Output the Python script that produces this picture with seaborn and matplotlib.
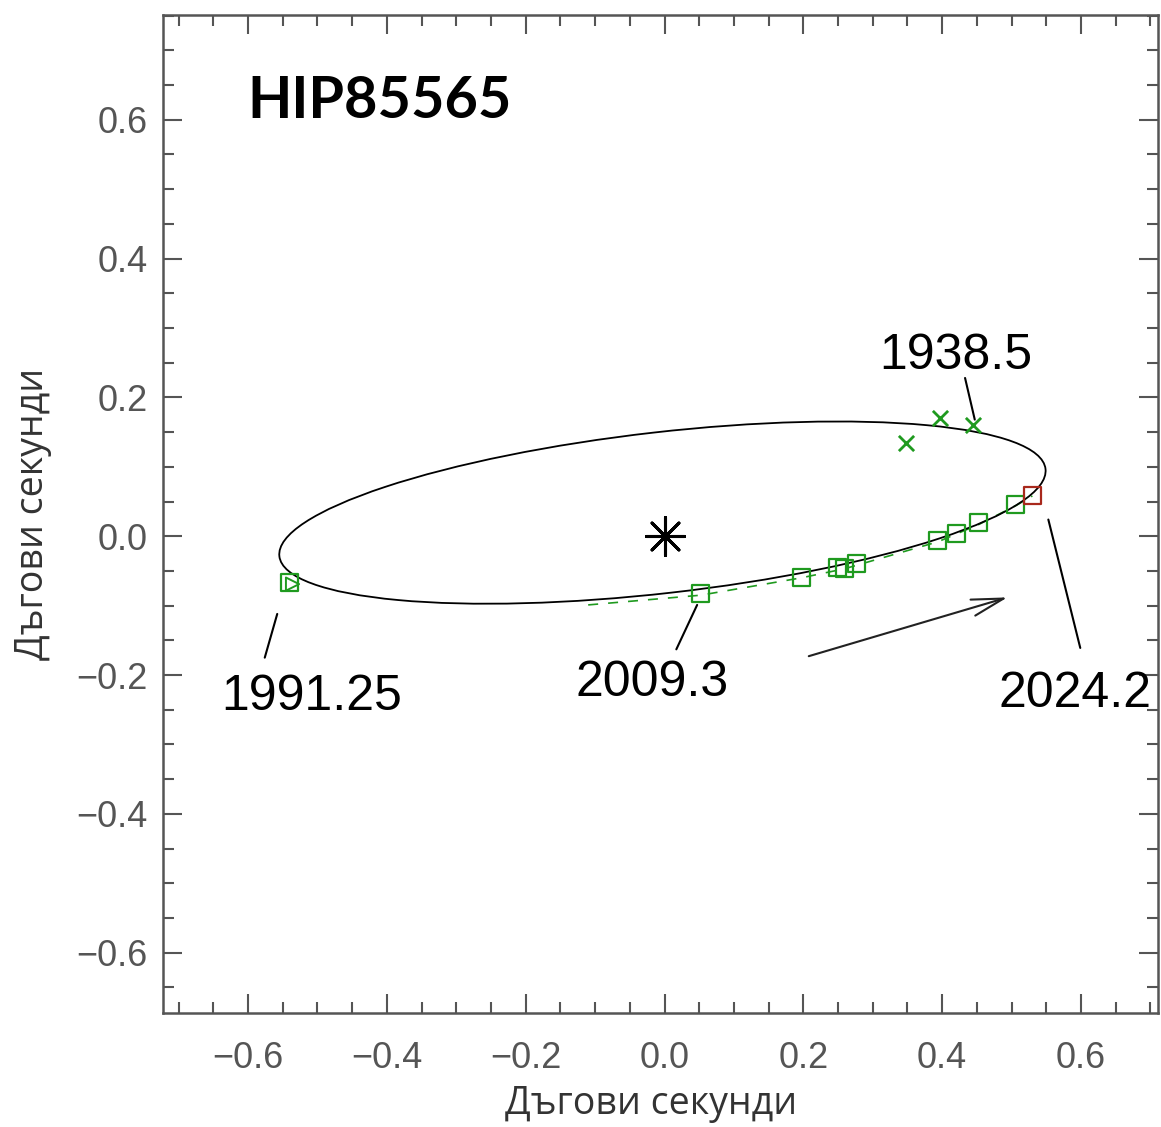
import numpy as np
import matplotlib
matplotlib.use("Agg")
import matplotlib.pyplot as plt
from matplotlib.patches import Ellipse
import pandas as pd
import seaborn as sns

# observed positions (arcsec)
obs_x = [-0.540, 0.052, 0.197, 0.249, 0.259, 0.276, 0.394, 0.421, 0.453, 0.506]
obs_y = [-0.066, -0.082, -0.059, -0.045, -0.046, -0.040, -0.006, 0.004, 0.020, 0.046]
last_x = [0.530]
last_y = [0.058]
old_x = [0.348, 0.397, 0.444]
old_y = [0.135, 0.171, 0.160]
path_x = [-0.110, 0.052, 0.197, 0.259, 0.394, 0.453, 0.506, 0.530]
path_y = [-0.099, -0.085, -0.060, -0.047, -0.008, 0.017, 0.044, 0.058]

# apparent orbit: centre, full axes, tilt (deg)
orb_center = (-0.003, 0.034)
orb_width = 1.111
orb_height = 0.232
orb_angle = 6.5

# epoch labels: text, text position, line start, line end
ep_labels = ["1938.5", "1991.25", "2009.3", "2024.2"]
ep_text_xy = [(0.419, 0.259), (-0.508, -0.231), (-0.018, -0.211), (0.591, -0.228)]
ep_line_a = [(0.433, 0.228), (-0.558, -0.112), (0.047, -0.099), (0.553, 0.024)]
ep_line_b = [(0.447, 0.168), (-0.576, -0.175), (0.017, -0.163), (0.599, -0.161)]

sns.set_style("ticks")
plt.rcParams["font.family"] = ["Open Sans", "DejaVu Sans"]

fig = plt.figure(figsize=(11.61, 11.27), dpi=100)
ax = fig.add_axes([163 / 1161, 1 - 1013 / 1127, 995 / 1161, 998 / 1127])

green = "#1f9a1f"

df_path = pd.DataFrame({"x": path_x, "y": path_y})
sns.lineplot(data=df_path, x="x", y="y", sort=False, color=green, lw=1.2,
             linestyle=(0, (6, 6)), ax=ax, zorder=2)

orbit = Ellipse(orb_center, orb_width, orb_height, angle=orb_angle,
                fill=False, ec="black", lw=1.3, zorder=3)
ax.add_patch(orbit)

df_obs = pd.DataFrame({"x": obs_x, "y": obs_y})
sns.scatterplot(data=df_obs, x="x", y="y", marker="s", s=150, facecolors="none",
                edgecolor=green, linewidth=1.6, ax=ax, zorder=4)
sns.scatterplot(x=[obs_x[0] + 0.004], y=[obs_y[0] - 0.003], marker=">", s=90,
                facecolors="none", edgecolor=green, linewidth=1.4, ax=ax, zorder=4)
sns.scatterplot(x=last_x, y=last_y, marker="s", s=150, facecolors="none",
                edgecolor="#a8281c", linewidth=1.6, ax=ax, zorder=5)
sns.scatterplot(x=old_x, y=old_y, marker="x", s=120, color=green, linewidth=2,
                ax=ax, zorder=4)
sns.scatterplot(x=[0.0], y=[0.0], marker=(8, 2, 0), s=750, color="black",
                linewidth=2.2, ax=ax, zorder=5)

for lab, txy, a, b in zip(ep_labels, ep_text_xy, ep_line_a, ep_line_b):
    ax.plot([a[0], b[0]], [a[1], b[1]], color="black", lw=1.5, zorder=3)
    ax.text(txy[0], txy[1], lab, ha="center", va="center", fontsize=36,
            family="Liberation Sans", color="black")

# direction of motion
ax.annotate("", xy=(0.498, -0.087), xytext=(0.204, -0.174),
            arrowprops=dict(arrowstyle="->,head_length=2.3,head_width=0.6",
                            color="#222222", lw=1.5))

ax.text(0.085, 0.913, "HIP85565", transform=ax.transAxes, ha="left", va="center",
        fontsize=41.5, fontweight="bold", family="Lato", color="black")

ax.set_xlim(-0.7226, 0.711)
ax.set_ylim(-0.687, 0.751)
ax.set_xticks([-0.6, -0.4, -0.2, 0.0, 0.2, 0.4, 0.6])
ax.set_yticks([-0.6, -0.4, -0.2, 0.0, 0.2, 0.4, 0.6])
ax.set_xticks(np.arange(-0.70, 0.71, 0.05), minor=True)
ax.set_yticks(np.arange(-0.65, 0.751, 0.05), minor=True)
tick_txt = ["\u22120.6", "\u22120.4", "\u22120.2", "0.0", "0.2", "0.4", "0.6"]
ax.set_xticklabels(tick_txt, family="Liberation Sans")
ax.set_yticklabels(tick_txt, family="Liberation Sans")
ax.tick_params(which="both", direction="in", top=True, right=True, color="#555555",
               width=1.5)
ax.tick_params(which="major", length=14, labelsize=26, labelcolor="#555555")
ax.tick_params(axis="x", which="major", pad=20)
ax.tick_params(axis="y", which="major", pad=11)
ax.tick_params(which="minor", length=8)
for sp in ax.spines.values():
    sp.set_color("#555555")
    sp.set_linewidth(1.8)

ax.set_xlabel("Дъгови секунди", fontsize=27, color="#333333")
ax.set_ylabel("Дъгови секунди", fontsize=27, color="#333333")
ax.xaxis.set_label_coords(0.491, -0.072)
ax.yaxis.set_label_coords(-0.112, 0.5)

fig.savefig("out.png", dpi=100)
